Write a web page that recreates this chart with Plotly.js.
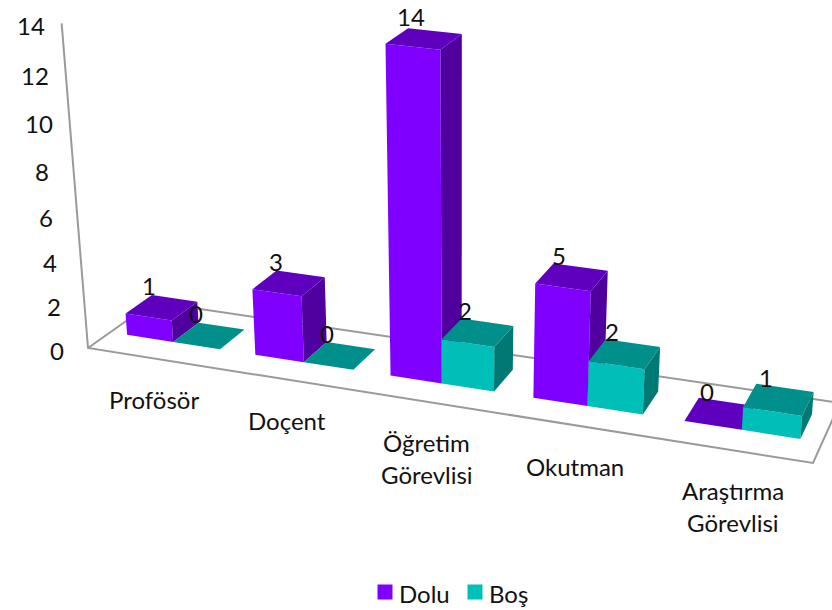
<!DOCTYPE html>
<html>
<head>
<meta charset="utf-8">
<script src="https://cdn.plot.ly/plotly-3.0.1.min.js"></script>
<style>html,body{margin:0;padding:0;background:#fff}#chart{width:832px;height:610px}</style>
</head>
<body>
<div id="chart"></div>
<script>
const categories = ["Profösör", "Doçent", "Öğretim\nGörevlisi", "Okutman", "Araştırma\nGörevlisi"];
const seriesNames = ["Dolu", "Boş"];
const dolu = [1, 3, 14, 5, 0];
const bos = [0, 0, 2, 2, 1];
const yTicks = [0, 2, 4, 6, 8, 10, 12, 14];

const FONT = "Lato, 'Open Sans', sans-serif";
const GREY = "#9a9a9a";
// front, top, side shade per series
const shades = [
  ["#7f00ff", "#5f00bf", "#4f009f"],
  ["#00bfb8", "#008f8a", "#007873"]
];

/* ---------- PROJECTION (fake 3D, floor corners) ---------- */
const A = [88, 348], B = [813, 463], C = [840, 403], D = [153, 302];
const VP = [460, 4930]; // verticals converge far below the chart

const dx1 = B[0]-C[0], dx2 = D[0]-C[0], sx = A[0]-B[0]+C[0]-D[0];
const dy1 = B[1]-C[1], dy2 = D[1]-C[1], sy = A[1]-B[1]+C[1]-D[1];
const den = dx1*dy2 - dx2*dy1;
const pg = (sx*dy2 - dx2*sy)/den;
const ph = (dx1*sy - sx*dy1)/den;

function floorPt(u, v){
  const U = u/categories.length;
  const w = 1 + pg*U + ph*v;
  return [
    ((B[0]-A[0]+pg*B[0])*U + (D[0]-A[0]+ph*D[0])*v + A[0])/w,
    ((B[1]-A[1]+pg*B[1])*U + (D[1]-A[1]+ph*D[1])*v + A[1])/w
  ];
}

function project(u, v, h){
  const b = floorPt(u, v);
  const s = 21.3 + (b[1]-348)*0.017;
  const y = b[1] - s*h/(1 - 0.0058*h);
  const x = VP[0] + (b[0]-VP[0])*(VP[1]-y)/(VP[1]-b[1]);
  return [x, y];
}

function poly(pts, color){
  return {
    x: pts.map(p => p[0]).concat(pts[0][0]),
    y: pts.map(p => p[1]).concat(pts[0][1]),
    type: "scatter", mode: "lines", fill: "toself", fillcolor: color,
    line: {width: 0, color: color}, hoverinfo: "skip", showlegend: false
  };
}

function gridLine(pts){
  return {
    x: pts.map(p => p[0]), y: pts.map(p => p[1]),
    type: "scatter", mode: "lines",
    line: {width: 2, color: GREY}, hoverinfo: "skip", showlegend: false
  };
}

/* ---------- BARS ---------- */
const GAP = 0.135, V0 = 0.33, V1 = 0.74;
const traces = [];
const annotations = [];

function label(x, y, text, anchor){
  annotations.push({x: x, y: y, text: text, showarrow: false, xref: "x", yref: "y",
    xanchor: anchor || "center", yanchor: "middle", font: {family: FONT, size: 24, color: "#111"}});
}

// walls and floor first, bars paint over them
traces.push(gridLine([project(0,0,14), A, B, C, D, A]));

categories.forEach((cat, i) => {
  const barW = (1 - 2*GAP)/2;
  [dolu, bos].forEach((vals, k) => {
    const u0 = i + GAP + k*barW, u1 = u0 + barW, h = vals[i];
    const c = shades[k];
    if(h > 0){
      traces.push(poly([project(u0,V0,0), project(u1,V0,0), project(u1,V0,h), project(u0,V0,h)], c[0]));
      traces.push(poly([project(u1,V0,0), project(u1,V1,0), project(u1,V1,h), project(u1,V0,h)], c[2]));
    }
    traces.push(poly([project(u0,V0,h), project(u1,V0,h), project(u1,V1,h), project(u0,V1,h)], c[1]));
    const mid = project((u0+u1)/2, (V0+V1)/2, h);
    label(mid[0]-13, mid[1]-22, String(h));
  });
  const base = floorPt(i+0.5, 0);
  cat.split("\n").forEach((line, n) => label(base[0]+2, base[1]+41+n*32, line));
});

yTicks.forEach(t => {
  const p = project(0, 0, t);
  label(p[0]-31, p[1]+2, String(t));
});

// legend swatches and names
const legendX = [385, 475], LEGEND_Y = 592;
seriesNames.forEach((name, k) => {
  traces.push({x: [legendX[k]], y: [LEGEND_Y], type: "scatter", mode: "markers", name: name,
    marker: {symbol: "square", size: 15, color: shades[k][0]}, hoverinfo: "skip", showlegend: false});
  label(legendX[k]+12, LEGEND_Y+1, name, "left");
});

Plotly.newPlot("chart", traces, {
  width: 832, height: 610,
  margin: {l: 0, r: 0, t: 0, b: 0},
  xaxis: {range: [0, 832], visible: false, fixedrange: true},
  yaxis: {range: [610, 0], visible: false, fixedrange: true},
  paper_bgcolor: "#fff", plot_bgcolor: "#fff",
  font: {family: FONT, color: "#111"},
  showlegend: false,
  annotations: annotations
}, {displayModeBar: false});
</script>
</body>
</html>
